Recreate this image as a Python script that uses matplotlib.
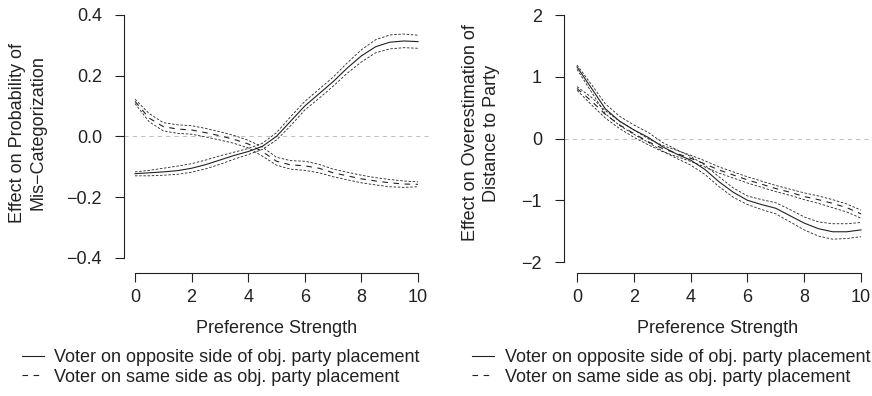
import numpy as np
import matplotlib.pyplot as plt

plt.rcParams['font.family'] = ['Liberation Sans', 'DejaVu Sans']
plt.rcParams['font.size'] = 13

# preference strength grid
x = np.arange(0, 10.5, 0.5)

# left panel: effect on probability of mis-categorization
opp_mis = [-0.123, -0.12, -0.117, -0.113, -0.105, -0.093, -0.078, -0.063, -0.05, -0.033, 0.0,
           0.05, 0.10, 0.14, 0.18, 0.225, 0.265, 0.295, 0.31, 0.314, 0.312]
opp_mis_hi = [-0.117, -0.112, -0.105, -0.098, -0.09, -0.078, -0.064, -0.052, -0.04, -0.023, 0.012,
              0.065, 0.115, 0.155, 0.195, 0.242, 0.285, 0.318, 0.334, 0.337, 0.333]
opp_mis_lo = [-0.13, -0.13, -0.128, -0.125, -0.118, -0.107, -0.092, -0.075, -0.06, -0.043, -0.012,
              0.035, 0.087, 0.125, 0.165, 0.208, 0.245, 0.275, 0.288, 0.292, 0.29]
same_mis = [0.115, 0.06, 0.032, 0.024, 0.021, 0.012, 0.002, -0.01, -0.025, -0.05, -0.082,
            -0.094, -0.097, -0.105, -0.12, -0.13, -0.14, -0.147, -0.153, -0.157, -0.158]
same_mis_hi = [0.122, 0.075, 0.045, 0.038, 0.035, 0.026, 0.015, 0.003, -0.013, -0.035, -0.069,
               -0.08, -0.082, -0.092, -0.108, -0.118, -0.128, -0.136, -0.142, -0.147, -0.15]
same_mis_lo = [0.108, 0.048, 0.018, 0.01, 0.007, -0.002, -0.012, -0.023, -0.038, -0.065, -0.095,
               -0.108, -0.112, -0.12, -0.133, -0.143, -0.153, -0.16, -0.166, -0.168, -0.166]

# right panel: effect on overestimation of distance to party
opp_dist = [1.16, 0.82, 0.48, 0.28, 0.14, 0.02, -0.13, -0.25, -0.35, -0.5, -0.7,
            -0.87, -1.0, -1.07, -1.13, -1.25, -1.37, -1.46, -1.51, -1.51, -1.48]
opp_dist_hi = [1.19, 0.88, 0.56, 0.36, 0.22, 0.1, -0.06, -0.18, -0.29, -0.43, -0.62,
               -0.8, -0.93, -0.99, -1.04, -1.15, -1.27, -1.35, -1.38, -1.38, -1.36]
opp_dist_lo = [1.12, 0.76, 0.4, 0.21, 0.07, -0.06, -0.2, -0.32, -0.43, -0.58, -0.78,
               -0.95, -1.07, -1.15, -1.22, -1.35, -1.48, -1.58, -1.63, -1.62, -1.59]
same_dist = [0.81, 0.61, 0.39, 0.22, 0.08, -0.05, -0.16, -0.24, -0.32, -0.41, -0.51,
             -0.59, -0.67, -0.74, -0.81, -0.87, -0.94, -0.99, -1.05, -1.12, -1.22]
same_dist_hi = [0.84, 0.67, 0.45, 0.28, 0.14, 0.0, -0.11, -0.19, -0.27, -0.36, -0.46,
                -0.54, -0.62, -0.69, -0.76, -0.82, -0.88, -0.93, -0.99, -1.06, -1.16]
same_dist_lo = [0.78, 0.55, 0.33, 0.16, 0.02, -0.1, -0.21, -0.29, -0.37, -0.46, -0.56,
                -0.64, -0.72, -0.79, -0.86, -0.92, -0.99, -1.05, -1.12, -1.19, -1.29]

xticks = [0, 2, 4, 6, 8, 10]
yticks_mis = [-0.4, -0.2, 0.0, 0.2, 0.4]
yticks_dist = [-2, -1, 0, 1, 2]

labels = ['Voter on opposite side of obj. party placement',
          'Voter on same side as obj. party placement']

W, H = 872, 396
ink = '#222222'


def rect(x0, x1, y0, y1):
    # pixel box (y measured from top) -> figure fraction
    return [x0 / W, 1 - y1 / H, (x1 - x0) / W, (y1 - y0) / H]


def panel(ax, opp, opp_hi, opp_lo, same, same_hi, same_lo, yticks, fmt):
    ax.axhline(0, color='#c0c0c0', lw=0.75, ls=(0, (4, 4)))
    ci = dict(color=ink, lw=0.6, ls=(0, (3, 2)))
    ax.plot(x, opp_hi, **ci)
    ax.plot(x, opp_lo, **ci)
    ax.plot(x, same_hi, **ci)
    ax.plot(x, same_lo, **ci)
    l1, = ax.plot(x, opp, color=ink, lw=0.8)
    l2, = ax.plot(x, same, color=ink, lw=0.8, ls=(0, (5, 5)))
    for s in ['top', 'right']:
        ax.spines[s].set_visible(False)
    for s in ['left', 'bottom']:
        ax.spines[s].set_color(ink)
        ax.spines[s].set_linewidth(0.8)
    ax.spines['left'].set_bounds(yticks[0], yticks[-1])
    ax.spines['bottom'].set_bounds(0, 10)
    ax.set_xticks(xticks)
    ax.set_yticks(yticks)
    ax.set_yticklabels([fmt.format(v).replace('-', '\u2212') for v in yticks])
    ax.tick_params(axis='both', length=6.5, width=0.8, color=ink, labelcolor=ink)
    ax.tick_params(axis='y', pad=9.4)
    ax.tick_params(axis='x', pad=5)
    ax.set_xlabel('Preference Strength', color=ink, labelpad=10)
    return l1, l2


fig = plt.figure(figsize=(W / 100, H / 100), dpi=100)

ax1 = fig.add_axes(rect(124, 429.3, 0, 272.7))
ax1.set_xlim(-0.39, 10.4)
ax1.set_ylim(-0.449, 0.449)
h1 = panel(ax1, opp_mis, opp_mis_hi, opp_mis_lo, same_mis, same_mis_hi, same_mis_lo,
           yticks_mis, '{:.1f}')

ax2 = fig.add_axes(rect(564, 872, 0, 272.7))
ax2.set_xlim(-0.458, 10.387)
ax2.set_ylim(-2.173, 2.243)
h2 = panel(ax2, opp_dist, opp_dist_hi, opp_dist_lo, same_dist, same_dist_hi, same_dist_lo,
           yticks_dist, '{:.0f}')

fig.text(28 / W, 1 - 133 / H, 'Effect on Probability of\nMis\u2212Categorization',
         rotation=90, ha='center', va='center', multialignment='center', color=ink,
         linespacing=1.3)
fig.text(481 / W, 1 - 133 / H, 'Effect on Overestimation of\nDistance to Party',
         rotation=90, ha='center', va='center', multialignment='center', color=ink,
         linespacing=1.3)

leg = dict(frameon=False, borderpad=0, borderaxespad=0, handlelength=1.2,
           handletextpad=0.6, labelspacing=0.15, labelcolor=ink, loc='upper left')
fig.legend(h1, labels, bbox_to_anchor=(22 / W, 1 - 349 / H), **leg)
fig.legend(h2, labels, bbox_to_anchor=(472 / W, 1 - 349 / H), **leg)

fig.savefig('out.png', dpi=100)
